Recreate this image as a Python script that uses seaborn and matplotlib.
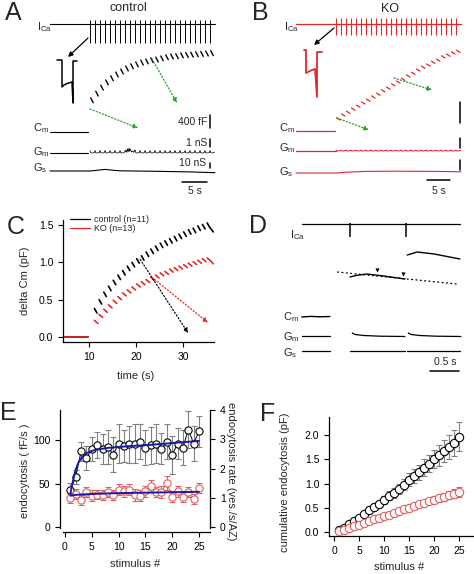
import numpy as np
import pandas as pd
import seaborn as sns
import matplotlib.pyplot as plt
from matplotlib.lines import Line2D

# ---------------- data ----------------
# A / B : example cells, 25 depolarisations at 1 Hz (s)
stim_t = [8, 9, 10, 11, 12, 13, 14, 15, 16, 17, 18, 19, 20,
          21, 22, 23, 24, 25, 26, 27, 28, 29, 30, 31, 32]
# Cm right after each depolarisation (fF above resting Cm)
cm_ctrl_fF = [910, 1090, 1250, 1390, 1500, 1600, 1680, 1760, 1820, 1870, 1920, 1950, 1980,
              2000, 2030, 2060, 2080, 2090, 2110, 2120, 2130, 2140, 2150, 2160, 2170]
cm_ko_fF = [240, 310, 360, 420, 470, 530, 580, 640, 690, 750, 800, 860, 910,
            960, 1020, 1070, 1130, 1180, 1220, 1270, 1310, 1370, 1400, 1440, 1470]
# ICa during one depolarisation (insets)
inset_ms_ctrl = [-10, 0, 0, 4, 10, 20, 22, 22, 30]
inset_pA_ctrl = [0, 0, -270, -250, -235, -220, -430, -10, -10]
inset_ms_ko = [-4, 0, 0, 6, 12, 18, 22, 22, 32]
inset_pA_ko = [0, 0, -230, -215, -200, -190, -470, -20, -20]
# Gm noise burst (control) and Gs drift, in trace units
gm_burst_t = [15.0, 15.2, 15.35, 15.5, 15.65, 15.8, 15.95, 16.1, 16.3, 16.5, 16.7, 16.9, 17.2]
gm_burst = [0, 2.5, 0.5, 4.0, 1.0, 4.5, 0.5, 3.0, 1.0, 2.0, 0.5, 1.0, 0]
gs_ctrl_t = [0, 8, 9.5, 11, 12.5, 14, 20, 28, 33]
gs_ctrl = [0, 0, 0.8, 1.6, 0.8, 0.2, -0.2, -0.9, -1.7]
gs_ko_t = [0, 8, 10, 14, 20, 28, 33]
gs_ko = [0, 0, 0.8, 1.6, 1.8, 1.6, 1.2]

# C : mean delta Cm (pF) after each stimulus
c_stim_t = [11, 12, 13, 14, 15, 16, 17, 18, 19, 20, 21, 22, 23,
            24, 25, 26, 27, 28, 29, 30, 31, 32, 33, 34, 35]
c_ctrl = [0.38, 0.50, 0.60, 0.68, 0.76, 0.83, 0.89, 0.95, 1.00, 1.05, 1.09, 1.14, 1.18,
          1.22, 1.26, 1.29, 1.32, 1.35, 1.38, 1.41, 1.44, 1.46, 1.49, 1.51, 1.53]
c_ko = [0.22, 0.30, 0.37, 0.43, 0.49, 0.54, 0.59, 0.63, 0.67, 0.71, 0.74, 0.77, 0.80,
        0.83, 0.86, 0.88, 0.91, 0.93, 0.95, 0.97, 0.99, 1.01, 1.03, 1.05, 1.06]
c_base_t = [4.7, 9.7]

# D : single-stimulus detail (trace units)
d_spike_t = [1.0, 2.0]
d_cm_pre_t = [0.14, 0.3, 0.45, 0.64]
d_cm_pre = [58, 58.6, 58.2, 58.5]
d_cm_lo_t = [1.0, 1.1, 1.3, 1.6, 1.98]
d_cm_lo = [98, 99.5, 101, 99, 96]
d_cm_hi_t = [2.02, 2.2, 2.5, 2.96]
d_cm_hi = [120, 123, 121, 116]
d_fit_t = [0.77, 2.91]
d_fit = [103, 91]
d_mark_t = [1.48, 1.95]
d_gm_t = [0.0, 0.05, 0.2, 0.5, 0.94]
d_gm = [42, 40.5, 39.5, 38.8, 38.5]

# E : endocytosis rate per stimulus
stim_n = [1, 2, 3, 4, 5, 6, 7, 8, 9, 10, 11, 12, 13,
          14, 15, 16, 17, 18, 19, 20, 21, 22, 23, 24, 25]
endo_ctrl = [43, 58, 87, 79, 90, 94, 90, 92, 83, 96, 93, 95, 96,
             98, 91, 94, 96, 90, 98, 83, 96, 91, 112, 96, 110]
endo_ctrl_err = [8, 8, 11, 14, 14, 15, 17, 20, 20, 22, 18, 21, 22,
                 20, 20, 21, 22, 18, 20, 22, 18, 20, 21, 20, 18]
endo_ko = [33, 38, 31, 40, 36, 37, 37, 40, 37, 43, 41, 43, 37,
           36, 41, 47, 40, 40, 51, 35, 41, 35, 40, 32, 45]
endo_ko_err = [5, 6, 6, 6, 6, 5, 6, 6, 6, 6, 6, 6, 7,
               6, 6, 7, 6, 7, 8, 6, 6, 6, 6, 6, 6]
fit_x_ctrl = [1, 1.25, 1.5, 1.75, 2, 2.5, 3, 3.5, 4, 5, 6, 7, 8, 10, 12, 15, 18, 20, 22, 25]
fit_ctrl = [38, 46, 53, 60, 66, 74, 79, 82, 85, 87.5, 89, 90, 91, 92, 93, 94, 95.5, 96.5, 97.5, 99]
fit_x_ko = [1, 2, 5, 10, 15, 20, 25]
fit_ko = [36, 37, 38, 39, 39.5, 40, 40.5]

# F : cumulative endocytosis (pF)
cum_ctrl = [0.04, 0.08, 0.17, 0.23, 0.29, 0.38, 0.45, 0.52, 0.58, 0.66, 0.75, 0.81, 0.89,
            0.98, 1.08, 1.15, 1.23, 1.33, 1.41, 1.50, 1.58, 1.67, 1.75, 1.83, 1.96]
cum_ctrl_err = [0.01, 0.02, 0.03, 0.04, 0.04, 0.05, 0.06, 0.06, 0.07, 0.08, 0.09, 0.10, 0.11,
                0.12, 0.13, 0.14, 0.15, 0.17, 0.18, 0.19, 0.21, 0.23, 0.25, 0.27, 0.30]
cum_ko = [0.02, 0.05, 0.08, 0.12, 0.15, 0.19, 0.22, 0.26, 0.29, 0.33, 0.36, 0.40, 0.43,
          0.47, 0.50, 0.53, 0.57, 0.60, 0.64, 0.67, 0.70, 0.73, 0.76, 0.79, 0.82]
cum_ko_err = [0.01, 0.01, 0.01, 0.02, 0.02, 0.02, 0.02, 0.03, 0.03, 0.03, 0.04, 0.04, 0.04,
              0.05, 0.05, 0.05, 0.06, 0.06, 0.06, 0.07, 0.07, 0.08, 0.08, 0.09, 0.10]

# ---------------- style ----------------
sns.set_theme(style="ticks")
plt.rcParams["font.family"] = ["Liberation Sans", "DejaVu Sans"]
plt.rcParams["mathtext.default"] = "regular"

K = "black"
RED = "#e4262b"
RED_L = "#e06060"
GREEN = "#2a9a2a"
BLUE = "#1a1aa6"
GREY = "#808080"

W, H = 474, 574
fig = plt.figure(figsize=(W / 100, H / 100), dpi=100)


def box(x0, y0, x1, y1):
    return fig.add_axes([x0 / W, 1 - y1 / H, (x1 - x0) / W, (y1 - y0) / H])


def ftext(px, py, s, **kw):
    fig.text(px / W, 1 - py / H, s, **kw)


def arrow(ax, start, end, color, ls=":"):
    ax.annotate("", xy=end, xytext=start,
                arrowprops=dict(arrowstyle="-|>", color=color, lw=0.9, ls=ls,
                                mutation_scale=7, shrinkA=0, shrinkB=0))


def style_axis(ax):
    ax.tick_params(direction="out", length=3.5, width=0.8, labelsize=7.5, pad=3.5,
                   colors=K)
    for s in ax.spines.values():
        s.set_linewidth(0.9)
        s.set_color(K)


def ripple(times, end, base, dv):
    tt, vv = [], []
    for i, t in enumerate(times):
        t1 = times[i + 1] if i + 1 < len(times) else end
        for f, d in zip([0, 0.08, 0.3, 0.7, 0.95], dv):
            tt.append(t + f * (t1 - t))
            vv.append(base + d)
    return np.array(tt), np.array(vv)


# panel letters
for lab, px, py in [("A", 13, 13), ("B", 260, 13), ("C", 16, 227),
                    ("D", 258, 226), ("E", 8, 413), ("F", 268, 414)]:
    ftext(px, py, lab, fontsize=18, ha="center", va="center")

# ---------------- A ----------------
axA = box(45, 15, 220, 195)
axA.set_xlim(-1, 34)
axA.set_ylim(0, 180)
axA.axis("off")
axA.plot([0, 33], [171, 171], color=K, lw=0.8)
axA.vlines(stim_t, 152, 175, color=K, lw=0.7)
axA.text(-2.6, 168, "I$_{Ca}$", fontsize=8, ha="left", va="center")
axA.text(15.6, 187, "control", fontsize=9, ha="center", va="center")
arrow(axA, (7.6, 157), (3.6, 138), K, ls="-")
# Cm
axA.plot([0, 7.6], [63, 63], color=K, lw=0.8)
for t, c in zip(stim_t, cm_ctrl_fF):
    axA.plot([t + 0.15, t + 0.65], [63 + c / 26.7, 63 + (c - 130) / 26.7], color=K, lw=1.0)
axA.text(-3.4, 67, "C$_m$", fontsize=8, ha="left", va="center")
# Gm
axA.plot([0, 7.6], [42, 42], color=K, lw=0.8)
tt, vv = ripple(stim_t, 33, 42, [2.4, 0.6, 0, 0.2, 1.0])
grid = np.union1d(tt, gm_burst_t)
gm = np.interp(grid, tt, vv) + np.interp(grid, gm_burst_t, gm_burst, left=0, right=0)
axA.plot(grid, gm, color=K, lw=0.5)
axA.text(-3.4, 43, "G$_m$", fontsize=8, ha="left", va="center")
# Gs
axA.plot(gs_ctrl_t, 24 + np.array(gs_ctrl), color=K, lw=0.8)
axA.text(-3.4, 27, "G$_s$", fontsize=8, ha="left", va="center")
# scale bars
axA.plot([32, 32], [67, 80], color=K, lw=1.1)
axA.text(31.4, 73, "400 fF", fontsize=7.5, ha="right", va="center")
axA.plot([32, 32], [48, 56], color=K, lw=1.1)
axA.text(31.4, 52, "1 nS", fontsize=7.5, ha="right", va="center")
axA.plot([32, 32], [27, 32], color=K, lw=1.1)
axA.text(31.2, 32, "10 nS", fontsize=7.5, ha="right", va="center")
axA.plot([26.4, 31.4], [13, 13], color=K, lw=1.1)
axA.text(28.9, 4, "5 s", fontsize=7.5, ha="center", va="center")
arrow(axA, (20.4, 136), (25.4, 92), GREEN)
arrow(axA, (8.0, 86), (17.6, 67), GREEN)

axIa = box(55, 56, 80, 110)
axIa.set_xlim(-14, 36)
axIa.set_ylim(-500, 40)
axIa.axis("off")
axIa.plot(inset_ms_ctrl, inset_pA_ctrl, color=K, lw=1.1)

# ---------------- B ----------------
axB = box(291, 15, 466, 195)
axB.set_xlim(-1, 34)
axB.set_ylim(0, 180)
axB.axis("off")
axB.plot([0, 33], [171.5, 171.5], color=RED, lw=0.9)
axB.vlines(stim_t, 160, 177, color=RED, lw=0.8)
axB.text(-2.4, 168, "I$_{Ca}$", fontsize=8, ha="left", va="center")
axB.text(18.7, 186, "KO", fontsize=9, ha="center", va="center")
arrow(axB, (7.6, 167), (3.6, 150), K, ls="-")
axB.plot([0, 7.8], [64, 64], color=RED, lw=0.9)
for t, c in zip(stim_t, cm_ko_fF):
    axB.plot([t + 0.1, t + 0.8], [64 + c / 18.2, 64 + (c - 40) / 18.2], color=RED, lw=0.9)
axB.text(-3.4, 67, "C$_m$", fontsize=8, ha="left", va="center")
axB.plot([0, 8], [44, 44], color=RED, lw=0.9)
tt, vv = ripple(stim_t, 33, 44, [1.0, 0.3, 0, 0.2, 0.6])
axB.plot(tt, vv, color=RED, lw=0.7)
axB.text(-3.4, 47, "G$_m$", fontsize=8, ha="left", va="center")
axB.plot(gs_ko_t, 22 + np.array(gs_ko), color=RED, lw=0.8)
axB.text(-3.4, 23, "G$_s$", fontsize=8, ha="left", va="center")
axB.plot([32.8, 32.8], [72, 93], color=K, lw=1.1)
axB.plot([32.8, 32.8], [47, 57], color=K, lw=1.1)
axB.plot([32.8, 32.8], [25, 35], color=K, lw=1.1)
axB.plot([26.2, 30.8], [15, 15], color=K, lw=1.1)
axB.text(28.6, 4, "5 s", fontsize=7.5, ha="center", va="center")
arrow(axB, (19.6, 117), (27.2, 105), GREEN)
arrow(axB, (8.2, 77), (14.6, 65), GREEN)

axIb = box(299, 46, 324, 100)
axIb.set_xlim(-14, 36)
axIb.set_ylim(-500, 40)
axIb.axis("off")
axIb.plot(inset_ms_ko, inset_pA_ko, color=RED, lw=1.3)

# ---------------- C ----------------
axC = box(63, 220, 214, 342)
rows = []
for grp, levels, drop, dx in [("control (n=11)", c_ctrl, 0.06, 0.55), ("KO (n=13)", c_ko, 0.04, 0.75)]:
    rows += [(grp, 0, t, 0.0) for t in c_base_t]
    for i, (t, lv) in enumerate(zip(c_stim_t, levels), 1):
        rows += [(grp, i, t + 0.15, lv), (grp, i, t + 0.15 + dx, lv - drop)]
        if i == len(levels):
            rows.append((grp, i, t + 1.45, lv - 2.0 * drop))
dfC = pd.DataFrame(rows, columns=["group", "seg", "time", "dcm"])
sns.lineplot(data=dfC, x="time", y="dcm", hue="group", units="seg", estimator=None,
             palette={"control (n=11)": K, "KO (n=13)": RED}, lw=1.2, legend=False, ax=axC)
axC.set_xlim(4.47, 36.6)
axC.set_ylim(-0.07, 1.57)
axC.set_xticks([10, 20, 30])
axC.set_yticks([0.0, 0.5, 1.0, 1.5])
axC.set_yticklabels(["0.0", "0.5", "1.0", "1.5"])
axC.set_xlabel("time (s)", fontsize=8)
axC.set_ylabel("delta Cm (pF)", fontsize=8)
axC.xaxis.set_label_coords(0.48, -0.24)
axC.yaxis.set_label_coords(-0.22, 0.5)
sns.despine(ax=axC)
style_axis(axC)
arrow(axC, (20.9, 1.04), (31.1, 0.05), K)
arrow(axC, (23.4, 0.80), (35.3, 0.19), RED)
axC.legend(handles=[Line2D([], [], color=K, lw=0.9), Line2D([], [], color=RED, lw=0.9)],
           labels=["control (n=11)", "KO (n=13)"], loc="upper left",
           bbox_to_anchor=(0.02, 1.07), frameon=False, fontsize=6.4,
           handlelength=2.3, handletextpad=0.4, labelspacing=0.05, borderaxespad=0)

# ---------------- D ----------------
axD = box(285, 215, 470, 375)
axD.set_xlim(-0.16, 3.14)
axD.set_ylim(0, 160)
axD.axis("off")
axD.plot([0.14, 2.96], [151, 151], color=K, lw=0.9)
axD.vlines(d_spike_t, 138, 152, color=K, lw=1.1)
axD.text(-0.07, 140, "I$_{Ca}$", fontsize=8, ha="left", va="center")
axD.plot(d_fit_t, d_fit, color=K, lw=0.9, ls=(0, (1.5, 2)))
axD.plot(d_cm_lo_t, d_cm_lo, color=K, lw=1.0)
axD.plot(d_cm_hi_t, d_cm_hi, color=K, lw=1.0)
axD.scatter(d_mark_t, np.interp(d_mark_t, d_cm_lo_t, d_cm_lo) + 5, marker="v",
            s=9, color=K, linewidths=0)
axD.plot(d_cm_pre_t, d_cm_pre, color=K, lw=1.0)
axD.text(-0.2, 58, "C$_m$", fontsize=8, ha="left", va="center")
axD.plot([0.14, 0.64], [39, 39], color=K, lw=0.9)
for t0 in [1.04, 2.04]:
    axD.plot(t0 + np.array(d_gm_t), d_gm, color=K, lw=0.9)
axD.text(-0.2, 38, "G$_m$", fontsize=8, ha="left", va="center")
for seg in [(0.14, 0.64), (1.0, 1.98), (2.02, 2.96)]:
    axD.plot(seg, [24, 24], color=K, lw=0.9)
axD.text(-0.2, 22, "G$_s$", fontsize=8, ha="left", va="center")
axD.plot([2.43, 2.95], [4, 4], color=K, lw=1.1)
axD.text(2.69, 13, "0.5 s", fontsize=7.5, ha="center", va="center")

# ---------------- E ----------------
axE = box(60, 410, 210, 532)
axE.errorbar(stim_n, endo_ctrl, yerr=endo_ctrl_err, fmt="none", ecolor=GREY,
             elinewidth=0.8, capsize=2.2, capthick=0.8, zorder=1)
axE.errorbar(stim_n, endo_ko, yerr=endo_ko_err, fmt="none", ecolor=RED_L,
             elinewidth=0.8, capsize=2.2, capthick=0.8, zorder=1)
sns.lineplot(x=stim_n, y=endo_ctrl, color=K, lw=0.7, marker="o", markersize=5.2,
             markerfacecolor="white", markeredgecolor=K, markeredgewidth=0.8, ax=axE, zorder=3)
sns.lineplot(x=stim_n, y=endo_ko, color=RED_L, lw=0.7, marker="o", markersize=5.2,
             markerfacecolor="white", markeredgecolor=RED_L, markeredgewidth=0.8, ax=axE, zorder=3)
sns.lineplot(x=fit_x_ctrl, y=fit_ctrl, color=BLUE, lw=1.4, ax=axE, zorder=5)
sns.lineplot(x=fit_x_ko, y=fit_ko, color=BLUE, lw=1.4, ax=axE, zorder=5)
axE.set_xlim(-0.93, 27.05)
axE.set_ylim(-5.7, 134.5)
axE.set_xticks([0, 5, 10, 15, 20, 25])
axE.set_yticks([0, 50, 100])
axE.set_xlabel("stimulus #", fontsize=8)
axE.set_ylabel("endocytosis ( fF/s )", fontsize=8)
axE.xaxis.set_label_coords(0.5, -0.22)
axE.yaxis.set_label_coords(-0.2, 0.5)
axE.spines["top"].set_visible(False)
axE.spines["left"].set_bounds(-1, 134.5)
axE.spines["bottom"].set_bounds(-0.35, 27.05)
axE.spines["right"].set_visible(False)
style_axis(axE)
axE2 = axE.twinx()
axE2.set_ylim(-5.7 / 33.6, 134.5 / 33.6)
axE2.set_yticks([0, 1, 2, 3, 4])
axE2.set_ylabel("endocytosis rate (ves./s/AZ)", fontsize=8, rotation=270)
axE2.yaxis.set_label_coords(1.17, 0.5)
axE2.spines["top"].set_visible(False)
axE2.spines["left"].set_visible(False)
axE2.spines["bottom"].set_visible(False)
axE2.spines["right"].set_bounds(-0.03, 4)
style_axis(axE2)
axE2.grid(False)

# ---------------- F ----------------
axF = box(329, 417, 473, 536)
axF.errorbar(stim_n, cum_ctrl, yerr=cum_ctrl_err, fmt="none", ecolor=GREY,
             elinewidth=0.8, capsize=2.2, capthick=0.8, zorder=1)
axF.errorbar(stim_n, cum_ko, yerr=cum_ko_err, fmt="none", ecolor=RED_L,
             elinewidth=0.8, capsize=2.2, capthick=0.8, zorder=1)
sns.scatterplot(x=stim_n, y=cum_ctrl, s=36, facecolor="white", edgecolor=K,
                linewidth=0.8, ax=axF, zorder=3)
sns.scatterplot(x=stim_n, y=cum_ko, s=36, facecolor="white", edgecolor=RED_L,
                linewidth=0.8, ax=axF, zorder=3)
axF.set_xlim(-1, 27.8)
axF.set_ylim(-0.08, 2.37)
axF.set_xticks([0, 5, 10, 15, 20, 25])
axF.set_yticks([0.0, 0.5, 1.0, 1.5, 2.0])
axF.set_yticklabels(["0.0", "0.5", "1.0", "1.5", "2.0"])
axF.set_xlabel("stimulus #", fontsize=8)
axF.set_ylabel("cumulative endocytosis (pF)", fontsize=8)
axF.xaxis.set_label_coords(0.49, -0.22)
axF.yaxis.set_label_coords(-0.27, 0.45)
sns.despine(ax=axF)
style_axis(axF)

fig.savefig("out.png", dpi=100)
